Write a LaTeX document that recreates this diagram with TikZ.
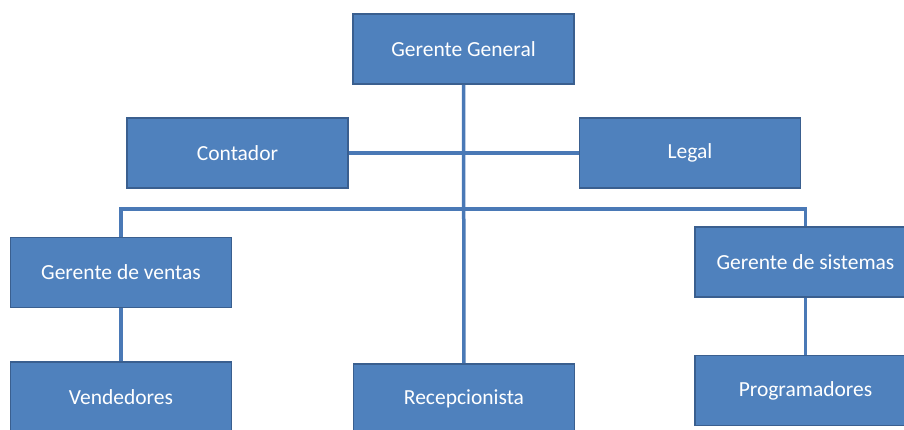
\documentclass[tikz,border=0pt]{standalone}
\usepackage{fontspec}
\setmainfont{Carlito}
\definecolor{boxfill}{HTML}{4F81BD}
\definecolor{boxline}{HTML}{3A5F8F}
\definecolor{linkcol}{HTML}{4A79B6}
\begin{document}
\begin{tikzpicture}[x=1pt, y=-1pt,
                        puesto/.style={draw=boxline, line width=1.8pt, fill=boxfill, text=white,
                                       minimum width=221pt, minimum height=70pt, inner sep=0pt,
                                       font=\fontsize{21.5}{25}\selectfont},
                        enlace/.style={draw=linkcol, line width=3.5pt}]
        \useasboundingbox[fill=white] (0,0) rectangle (904,430);
        \node[puesto](gg) at (463.5,49){Gerente General};
        \node[puesto](cont) at (237.5,153){Contador};
        \node[puesto](legal) at (690,153){Legal};
        \node[puesto](gv) at (121,272.5){Gerente de ventas};
        \node[puesto](vend) at (121,397){Vendedores};
        \node[puesto](recep) at (464,399){Recepcionista};
        \node[puesto](gs) at (805.5,262){Gerente de sistemas};
        \node[puesto](prog) at (805.5,390.5){Programadores};
        \coordinate (bus) at (463.5,209);

        \draw[enlace] (gg) -- (recep);
        \draw[enlace] (cont) -- (legal);
        \draw[enlace] (gv.north) |- (bus) -| (gs.north);
        \draw[enlace] (gv) -- (vend);
        \draw[enlace] (gs) -- (prog);
    \end{tikzpicture}
\end{document}
